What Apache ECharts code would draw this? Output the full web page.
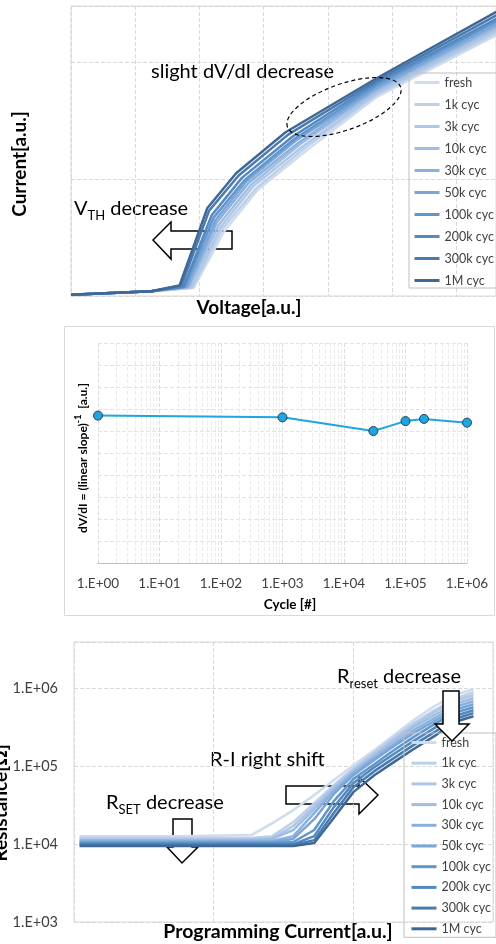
<!DOCTYPE html>
<html><head><meta charset="utf-8">
<script src="https://cdn.jsdelivr.net/npm/echarts@6/dist/echarts.min.js"></script>
<style>html,body{margin:0;padding:0;background:#fff}#c{width:496px;height:944px}</style>
</head><body><div id="c"></div>
<script>
// ---------- shared ----------
const seriesNames = ['fresh','1k cyc','3k cyc','10k cyc','30k cyc','50k cyc','100k cyc','200k cyc','300k cyc','1M cyc'];
const seriesColors = ['#cfdcef','#bdd0ea','#afc7e6','#9fbde2','#8ab0dd','#79a5d8','#6096cc','#5388c0','#4a7bb0','#3e6896'];

// ---------- panel 1: I-V curves, [voltage a.u., current a.u.] ----------
const ivFresh = [[0,0.01],[1.25,0.04],[1.91,0.07],[2.38,0.55],[2.91,0.91],[3.68,1.25],[4.75,1.70],[6.62,2.23]];
const iv1k    = [[0,0.01],[1.25,0.04],[1.89,0.07],[2.35,0.57],[2.88,0.92],[3.65,1.27],[4.75,1.72],[6.62,2.25]];
const iv3k    = [[0,0.01],[1.25,0.04],[1.87,0.07],[2.33,0.59],[2.84,0.94],[3.61,1.28],[4.75,1.73],[6.62,2.27]];
const iv10k   = [[0,0.01],[1.25,0.04],[1.84,0.08],[2.30,0.61],[2.80,0.95],[3.57,1.30],[4.75,1.75],[6.62,2.29]];
const iv30k   = [[0,0.01],[1.25,0.04],[1.82,0.08],[2.27,0.63],[2.77,0.97],[3.54,1.31],[4.75,1.77],[6.62,2.31]];
const iv50k   = [[0,0.01],[1.25,0.04],[1.80,0.08],[2.25,0.65],[2.73,0.98],[3.50,1.33],[4.75,1.78],[6.62,2.33]];
const iv100k  = [[0,0.01],[1.25,0.04],[1.77,0.08],[2.22,0.67],[2.70,0.99],[3.47,1.34],[4.75,1.80],[6.62,2.35]];
const iv200k  = [[0,0.01],[1.25,0.04],[1.75,0.08],[2.19,0.69],[2.66,1.01],[3.44,1.36],[4.75,1.82],[6.62,2.37]];
const iv300k  = [[0,0.01],[1.25,0.04],[1.72,0.09],[2.15,0.73],[2.61,1.03],[3.38,1.38],[4.75,1.84],[6.62,2.40]];
const iv1M    = [[0,0.01],[1.25,0.04],[1.69,0.09],[2.12,0.75],[2.57,1.05],[3.34,1.40],[4.75,1.86],[6.62,2.43]];
const ivCurves = [ivFresh, iv1k, iv3k, iv10k, iv30k, iv50k, iv100k, iv200k, iv300k, iv1M];

// ---------- panel 2: dV/dI vs cycle ----------
const cycles = [1, 1000, 30000, 100000, 200000, 1000000];
const dvdi   = [6.70, 6.62, 6.00, 6.45, 6.55, 6.38];

// ---------- panel 3: R-I curves ----------
const progCurrent = [0.04, 0.33, 0.76, 1.27, 1.42, 1.57, 1.72, 1.86, 2.00, 2.15, 2.29, 2.43, 2.58, 2.72, 2.86];
const rFresh = [12600,12600,12600,13000,18500,27200,42300,65800,102000,159000,248000,386000,583000,806000,962000];
const r1k    = [11900,11900,11900,11900,12600,19100,33400,56800,93700,150000,234000,353000,518000,717000,881000];
const r3k    = [11600,11600,11600,11600,11900,17000,30600,53500,88400,142000,220000,333000,489000,676000,806000];
const r10k   = [11200,11200,11200,11200,11600,15100,28000,50500,85800,134000,208000,314000,447000,618000,738000];
const r30k   = [10900,10900,10900,10900,10900,12600,24900,47600,80900,126000,190000,287000,409000,566000,676000];
const r50k   = [10600,10600,10600,10600,10600,11600,20800,43500,76200,119000,179000,263000,375000,518000,618000];
const r100k  = [10300,10300,10300,10300,10300,10600,15100,35400,67800,105000,159000,234000,343000,475000,566000];
const r200k  = [9970,9970,9970,9970,9970,9970,12600,29700,60200,96500,142000,208000,305000,434000,518000];
const r300k  = [9680,9680,9680,9680,9680,9680,11200,24900,53500,85800,126000,185000,271000,397000,475000];
const r1M    = [9400,9400,9400,9400,9400,9400,10300,21500,46200,76200,112000,164000,241000,364000,434000];
const rCurves = [rFresh, r1k, r3k, r10k, r30k, r50k, r100k, r200k, r300k, r1M];

// minor log grid multipliers for panel 2
const minorMult = [2,3,4,5,6,7,8,9];
const decades = [1,10,100,1000,10000,100000];

// ---------- chart ----------
const FONT = 'Lato, "Open Sans", sans-serif';
const GRID = '#d9d9d9';
const chart = echarts.init(document.getElementById('c'));

function expLabel(v){
  const l = Math.log10(v); const e = Math.round(l);
  if (Math.abs(l - e) > 1e-6) return '';
  return '1.E+' + String(e).padStart(2,'0');
}
const dashed = {show:true, lineStyle:{color:GRID, type:'dashed', width:1}};
const hidden = {show:false};

const series = [];
ivCurves.forEach((d,i)=>series.push({
  name: seriesNames[i], type:'line', xAxisIndex:0, yAxisIndex:0, data:d,
  symbol:'none', lineStyle:{width:2.5, color:seriesColors[i]}, itemStyle:{color:seriesColors[i]}
}));
const minorLines = [];
decades.forEach(d=>minorMult.forEach(m=>minorLines.push({xAxis: d*m})));
series.push({
  type:'line', xAxisIndex:1, yAxisIndex:1, data:[], z:0, zlevel:0, silent:true,
  markLine:{silent:true, z:0, symbol:['none','none'], label:{show:false},
    lineStyle:{color:'#ebebeb', type:'dashed', width:1}, data:minorLines}
});
series.push({
  name:'dV/dI', type:'line', xAxisIndex:1, yAxisIndex:1, z:10,
  data: cycles.map((c,i)=>[c, dvdi[i]]),
  symbol:'circle', symbolSize:9,
  lineStyle:{color:'#1ea6e1', width:2},
  itemStyle:{color:'#1ea6e1', borderColor:'#24405e', borderWidth:1}
});
rCurves.forEach((d,i)=>series.push({
  name: seriesNames[i], type:'line', xAxisIndex:2, yAxisIndex:2,
  data: progCurrent.map((x,j)=>[x, d[j]]),
  symbol:'none', lineStyle:{width:2.5, color:seriesColors[i]}, itemStyle:{color:seriesColors[i]}
}));

const legendBase = {
  orient:'vertical', itemWidth:25, itemHeight:14, data:seriesNames,
  borderColor:'#bfbfbf', borderWidth:1, selectedMode:false,
  itemStyle:{opacity:0}, lineStyle:{width:3},
  textStyle:{fontFamily:FONT, fontSize:12.5, color:'#404040'}
};

const txt = (text, x, y, size, opts={}) => Object.assign({
  type:'text', x, y, silent:true,
  style:Object.assign({text, font:(opts.bold?'bold ':'')+size+'px '+FONT, fill:'#000',
    textAlign:opts.align||'left', textVerticalAlign:'middle'}, opts.style||{})
}, opts.el||{});

const arrowStyle = {fill:'#fff', stroke:'#000', lineWidth:1.5};
const subRich = (big, small) => ({
  m:{fontSize:big, fontFamily:FONT, fill:'#000', lineHeight:26},
  s:{fontSize:small, fontFamily:FONT, fill:'#000', lineHeight:14, verticalAlign:'bottom'}
});

chart.setOption({
  animation:false,
  backgroundColor:'#fff',
  grid:[
    {left:71, top:6, width:430, height:290, show:true, borderColor:GRID, borderWidth:1},
    {left:98, top:343, width:369, height:220},
    {left:74, top:642, width:419, height:280, show:true, borderColor:GRID, borderWidth:1}
  ],
  xAxis:[
    {gridIndex:0, type:'value', min:0, max:6.615, interval:1, axisLine:hidden, axisTick:hidden, axisLabel:hidden, splitLine:dashed},
    {gridIndex:1, type:'log', logBase:10, min:1, max:1000000, interval:1, splitNumber:6,
      axisLine:{show:true, lineStyle:{color:'#bfbfbf', width:1}}, axisTick:hidden,
      axisLabel:{formatter:expLabel, margin:14, fontFamily:FONT, fontSize:13.5, color:'#404040'},
      splitLine:{show:true, lineStyle:{color:'#dcdcdc', type:'dashed'}}},
    {gridIndex:2, type:'value', min:0, max:3, interval:1, axisLine:hidden, axisTick:hidden, axisLabel:hidden, splitLine:dashed}
  ],
  yAxis:[
    {gridIndex:0, type:'value', min:0, max:2.48, interval:1, axisLine:hidden, axisTick:hidden, axisLabel:hidden, splitLine:dashed},
    {gridIndex:1, type:'value', min:0, max:10, interval:1, axisLine:hidden, axisTick:hidden, axisLabel:hidden,
      splitLine:{show:true, lineStyle:{color:'#e3e3e3', type:'dashed'}}},
    {gridIndex:2, type:'log', logBase:10, min:1000, max:3880000, interval:1, axisLine:hidden, axisTick:hidden,
      axisLabel:{formatter:expLabel, margin:16, fontFamily:FONT, fontSize:14.5, color:'#404040', showMaxLabel:false},
      splitLine:dashed}
  ],
  legend:[
    Object.assign({}, legendBase, {left:409, top:73, itemGap:9, padding:[3,3,1,4]}),
    Object.assign({}, legendBase, {left:404, top:733, itemGap:7.7, padding:[3,5,2,6]})
  ],
  series,
  graphic:[
    {type:'rect', silent:true, shape:{x:64.5, y:326.5, width:430, height:289}, style:{fill:'none', stroke:GRID, lineWidth:1}},
    txt('Current[a.u.]', 20, 164, 19, {bold:true, align:'center', el:{rotation:Math.PI/2}}),
    txt('Voltage[a.u.]', 249, 308, 19, {bold:true, align:'center'}),
    txt('slight dV/dI decrease', 151, 72, 20),
    {type:'text', x:74, y:209, silent:true, style:{text:'{m|V}{s|TH}{m| decrease}', textVerticalAlign:'middle', rich:subRich(20,13)}},
    {type:'polygon', silent:true, shape:{points:[[153,240],[171,222],[171,231],[232,231],[232,249],[171,249],[171,259]]}, style:arrowStyle},
    {type:'ellipse', silent:true, x:344, y:107, rotation:0.34, shape:{cx:0, cy:0, rx:60, ry:23},
      style:{fill:'none', stroke:'#000', lineWidth:1.2, lineDash:[4,3]}, z:100},
    {type:'text', x:83, y:458, rotation:Math.PI/2, silent:true, style:{
      text:'{m|dV/dI = (linear slope)}{p|-1}{m|  [a.u.]}', textAlign:'center', textVerticalAlign:'middle',
      rich:{m:{fontSize:12, fontWeight:'bold', fontFamily:FONT, fill:'#000', lineHeight:18},
            p:{fontSize:9, fontWeight:'bold', fontFamily:FONT, fill:'#000', lineHeight:10, verticalAlign:'top'}}}},
    txt('Cycle [#]', 290, 605, 13.5, {bold:true, align:'center'}),
    txt('Programming Current[a.u.]', 278, 932, 19.5, {bold:true, align:'center'}),
    txt('Resistance[Ω]', 1, 803, 19, {bold:true, align:'center', el:{rotation:Math.PI/2}}),
    {type:'text', x:337, y:677, silent:true, style:{text:'{m|R}{s|reset}{m| decrease}', textVerticalAlign:'middle', rich:subRich(20,13)}},
    {type:'polygon', silent:true, z:100, shape:{points:[[443,691],[459,691],[459,724],[469,724],[452,741],[435,724],[443,724]]}, style:arrowStyle},
    txt('R-I right shift', 210, 760, 20),
    {type:'polygon', silent:true, shape:{points:[[286,786],[359,786],[359,777],[378,795],[359,814],[359,804],[286,804]]}, style:arrowStyle},
    {type:'text', x:106, y:803, silent:true, style:{text:'{m|R}{s|SET}{m| decrease}', textVerticalAlign:'middle', rich:subRich(20,13)}},
    {type:'polygon', silent:true, shape:{points:[[173,819],[192,819],[192,847],[198,847],[182,863],[167,847],[173,847]]}, style:arrowStyle}
  ]
});
</script></body></html>
